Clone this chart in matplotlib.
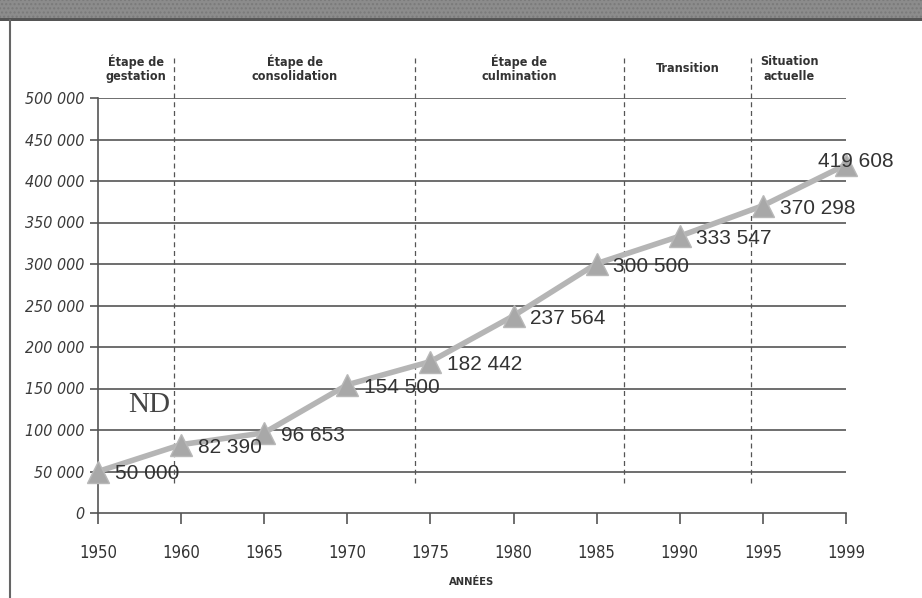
"""Évolution des effectifs, 1950-1999 (recréation du graphique scanné)."""

import matplotlib.pyplot as plt
from matplotlib.patches import Rectangle

# --- données ---
years = ["1950", "1960", "1965", "1970", "1975", "1980", "1985", "1990", "1995", "1999"]
values = [50000, 82390, 96653, 154500, 182442, 237564, 300500, 333547, 370298, 419608]
value_labels = ["50 000", "82 390", "96 653", "154 500", "182 442", "237 564",
                "300 500", "333 547", "370 298", "419 608"]
y_ticks = [0, 50000, 100000, 150000, 200000, 250000, 300000, 350000, 400000, 450000, 500000]
y_tick_labels = ["0", "50 000", "100 000", "150 000", "200 000", "250 000",
                 "300 000", "350 000", "400 000", "450 000", "500 000"]
stage_names = ["Étape de\ngestation", "Étape de\nconsolidation", "Étape de\nculmination",
               "Transition", "Situation\nactuelle"]
stage_centers = [0.46, 2.37, 5.07, 7.1, 8.32]
stage_breaks = [0.91, 3.81, 6.33, 7.86]

NARROW = dict(family="DejaVu Sans", stretch="condensed")
DARK = "#333333"

fig = plt.figure(figsize=(9.22, 5.98), dpi=100)
ax = fig.add_axes([98 / 922, 85 / 598, 748 / 922, 415 / 598])

# bandeau de titre + bordure gauche
fig.patches.append(Rectangle((0, 1 - 18 / 598), 1, 18 / 598, transform=fig.transFigure,
                             facecolor="#8c8c8c", edgecolor="#7a7a7a", hatch="....",
                             linewidth=0, zorder=0))
fig.patches.append(Rectangle((0, 1 - 21 / 598), 1, 3 / 598, transform=fig.transFigure,
                             facecolor="#555555", edgecolor="none", zorder=0))
fig.add_artist(plt.Line2D([10 / 922, 10 / 922], [0, 1 - 20 / 598], color="#666666",
                          linewidth=1.5, transform=fig.transFigure))

x = list(range(len(years)))

# grille horizontale
for yt in y_ticks[1:]:
    ax.axhline(yt, color="#555555", linewidth=1.2, zorder=1)

# séparateurs d'étapes
for xb in stage_breaks:
    ax.plot([xb, xb], [36000, 552000], color="#555555", linestyle=(0, (4, 3)),
            linewidth=0.9, clip_on=False, zorder=1)

for xc, name in zip(stage_centers, stage_names):
    ax.text(xc, 535000, name, ha="center", va="center", fontsize=9,
            fontweight="bold", color="#333333", linespacing=1.15, **NARROW)

# série
ax.plot(x, values, color="#b5b5b5", linewidth=4, marker="^", markersize=16,
        markerfacecolor="#a8a8a8", markeredgecolor="#b8b8b8", clip_on=False, zorder=3)

for i, (v, lab) in enumerate(zip(values, value_labels)):
    dx = -0.34 if i == len(values) - 1 else 0.2
    dy = 4000 if i == len(values) - 1 else -3000
    ax.text(i + dx, v + dy, lab, ha="left", va="center", fontsize=15,
            family=["Liberation Sans", "DejaVu Sans"], color=DARK, zorder=4)

ax.text(0.61, 130000, "ND", ha="center", va="center", fontsize=21,
        family=["Liberation Serif", "DejaVu Serif"], color="#444444")

# axes
ax.set_xlim(0, 9)
ax.set_ylim(0, 500000)
ax.set_xticks(x)
ax.set_xticklabels(years, fontsize=12, color="#333333", **NARROW)
ax.set_yticks(y_ticks)
ax.set_yticklabels(y_tick_labels, fontsize=11.5, style="italic", color="#3a3a3a", **NARROW)
ax.tick_params(axis="x", length=8, width=1.2, color="#555555", pad=14)
ax.tick_params(axis="y", length=6, width=1.2, color="#555555", pad=4)
for side in ["top", "right"]:
    ax.spines[side].set_visible(False)
for side in ["left", "bottom"]:
    ax.spines[side].set_color("#555555")
    ax.spines[side].set_linewidth(1.2)
ax.set_xlabel("ANNÉES", fontsize=8, fontweight="bold", color="#333333",
              labelpad=11, **NARROW)

fig.savefig("out.png", dpi=100)
